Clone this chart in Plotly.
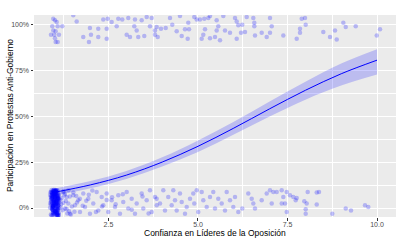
import plotly.graph_objects as go

# ---- Data ----
# Jittered observations, upper band (participated)
top_x = [0.958, 1.006, 1.053, 0.930, 1.081, 1.209, 0.958, 1.025, 0.894, 0.986, 1.117, 1.006, 1.025, 1.081,
         1.517, 1.612, 1.983, 1.796, 2.011, 1.955, 2.215, 2.215, 2.355, 2.478, 2.450, 2.450, 2.589, 2.729,
         2.774, 2.885, 3.053, 3.240, 3.221, 3.288, 3.008, 3.101, 3.332, 3.427, 3.500, 3.567, 3.707, 3.659,
         3.799, 3.799, 3.846, 3.874, 3.966, 4.098, 4.218, 4.282, 4.405, 4.497, 4.545, 4.637, 4.729, 4.749,
         4.712, 4.897, 4.964, 5.056, 5.176, 5.288, 5.335, 5.522, 5.567, 5.522, 5.196, 5.148, 5.103, 5.335,
         5.475, 5.615, 5.707, 5.754, 5.894, 6.034, 6.081, 6.126, 6.237, 6.201, 6.081, 6.313, 6.360, 6.545,
         6.573, 6.573, 6.592, 6.779, 7.011, 7.059, 7.011, 6.919, 7.897, 7.989, 8.008, 7.849, 7.849, 7.383,
         7.757, 8.500, 8.687, 8.827, 8.874, 9.059, 9.126, 9.405, 9.992, 10.084]
top_y = [1.031, 1.022, 1.013, 0.990, 0.990, 0.990, 0.967, 0.962, 0.943, 0.943, 0.943, 0.925, 0.904, 0.904,
         1.049, 1.016, 0.980, 0.931, 0.943, 0.904, 0.931, 0.976, 1.027, 1.031, 0.976, 0.921, 1.013, 0.990,
         1.031, 1.027, 1.034, 1.027, 0.990, 0.967, 0.943, 0.931, 0.931, 1.022, 0.936, 1.040, 1.034, 0.990,
         0.967, 0.943, 0.985, 0.931, 0.976, 0.980, 1.034, 0.998, 0.962, 1.045, 0.936, 0.973, 1.009, 0.973,
         0.921, 1.040, 1.027, 1.027, 1.031, 1.034, 1.045, 1.022, 0.990, 0.967, 0.973, 0.943, 0.921, 0.925,
         0.931, 0.913, 1.045, 0.967, 0.954, 1.034, 1.016, 0.995, 0.998, 0.954, 0.921, 0.958, 1.040, 1.034,
         0.990, 1.009, 0.940, 0.954, 1.034, 0.990, 0.954, 0.931, 1.031, 1.034, 0.998, 0.976, 0.954, 0.940,
         0.921, 0.958, 0.931, 0.967, 0.918, 1.009, 0.985, 0.990, 0.940, 0.973]

# Jittered observations, lower band (did not participate): dense block at x = 1
low1_x = [0.91, 1.05, 0.97, 1.10, 0.89, 1.02, 0.95, 1.08, 0.93, 1.00, 1.12, 0.88, 1.04, 0.96, 1.09, 0.92, 1.01,
          1.07, 0.94, 0.99, 1.11, 0.90, 1.03, 0.98, 1.06, 0.87, 1.10, 0.95, 1.02, 0.91, 1.08, 0.97, 1.04, 0.89,
          1.00, 1.06, 0.93, 1.12, 0.96, 1.01, 0.90, 1.09, 0.94, 1.03, 0.98, 1.07, 0.92, 1.05, 0.88, 1.11, 0.99,
          0.95, 1.02, 1.08, 0.91, 1.04, 0.97, 1.10, 0.93, 1.00,
          0.96, 1.03, 0.90, 1.07, 0.99, 0.93, 1.11, 1.01, 0.88, 1.05, 0.94, 1.09, 0.97, 1.02, 0.91, 1.06, 0.98,
          1.10, 0.92, 1.04, 1.00, 0.89, 1.08, 0.95, 1.03, 0.97, 1.12, 0.90, 1.06, 0.94, 1.01, 0.87, 1.09, 0.96,
          1.04, 0.92, 1.07, 0.99, 1.11, 0.93,
          0.94, 1.00, 1.06, 0.97, 1.03, 1.09, 0.95, 1.01, 1.07, 0.98, 1.04, 0.93, 1.10, 0.96, 1.02, 1.08, 0.99,
          1.05, 0.94, 1.00, 1.06, 0.97, 1.03, 1.09, 0.95, 1.01, 1.07, 0.98, 1.04, 0.93, 1.10, 0.96, 1.02, 1.08,
          0.99, 1.05, 0.94, 1.00, 1.06, 0.97, 1.03, 1.09, 0.95, 1.01, 1.07, 0.98, 1.04, 0.93, 1.10, 0.96, 1.02,
          1.08, 0.99, 1.05, 0.94, 1.00, 1.06, 0.97, 1.03, 1.09, 0.95, 1.01, 1.07, 0.98, 1.04, 0.93, 1.10, 0.96,
          1.02, 1.08, 0.99, 1.05, 0.94, 1.00, 1.06, 0.97, 1.03, 1.09, 0.95, 1.01]
low1_y = [0.085, -0.021, 0.042, 0.067, -0.035, 0.012, 0.095, 0.031, -0.008, 0.058, 0.074, 0.019, -0.028,
          0.088, 0.004, 0.049, -0.015, 0.081, 0.026, 0.063, -0.038, 0.037, 0.092, -0.002, 0.055, 0.071, 0.015,
          -0.025, 0.046, 0.098, -0.011, 0.034, 0.077, 0.060, -0.031, 0.022, 0.083, 0.040, 0.009, -0.018, 0.066,
          0.052, 0.001, 0.090, 0.028, -0.006, 0.072, 0.044, 0.086, -0.027, 0.017, 0.061, 0.094, 0.010, -0.039,
          0.035, 0.079, 0.024, 0.056, 0.003,
          0.007, 0.050, 0.089, -0.033, 0.070, 0.014, 0.047, -0.024, 0.029, 0.097, 0.064, -0.010, 0.039, 0.082,
          0.020, -0.037, 0.093, 0.057, -0.004, 0.027, 0.068, 0.045, 0.090, 0.011, -0.019, 0.076, 0.030, 0.053,
          -0.029, 0.084, 0.041, 0.002, 0.065, -0.013, 0.087, 0.032, 0.059, 0.018, -0.001, 0.073,
          -0.040, 0.021, 0.066, 0.093, -0.017, 0.048, 0.010, 0.075, -0.032, 0.036, 0.087, -0.009, 0.054, 0.017,
          0.098, -0.044, 0.029, 0.069, 0.005, 0.081, -0.026, 0.043, 0.091, 0.013, -0.036, 0.060, 0.025, 0.096,
          -0.003, 0.051, -0.042, 0.078, 0.033, -0.014, 0.085, 0.008, 0.063, -0.023, 0.040, 0.099, 0.018, -0.041,
          0.071, 0.045, -0.007, 0.089, 0.027, 0.057, -0.030, 0.011, 0.094, 0.036, -0.019, 0.067, 0.002, 0.082,
          -0.045, 0.049, 0.023, 0.073, -0.011, 0.058, 0.097, -0.034, 0.031, 0.080, 0.014, -0.027, 0.062, 0.046,
          0.092, -0.006, 0.038, 0.076, -0.039, 0.020, 0.086, 0.052, -0.016, 0.070]

# Lower band, spread over the rest of the x range
low2_x = [1.237, 1.332, 1.377, 1.285, 1.425, 1.517, 1.564, 1.656, 1.704, 1.796, 1.844, 1.936, 1.983, 2.075,
          2.170, 2.215, 2.310, 2.355, 2.450, 2.494, 2.589, 2.682, 2.774, 2.821, 2.913, 3.008, 3.053, 3.148,
          3.240, 3.288, 3.427, 3.472, 3.567, 3.659, 3.707, 3.799, 3.846,
          1.15, 1.22, 1.28, 1.18, 1.35, 1.42, 1.25, 1.48, 1.31, 1.55, 1.20, 1.38, 1.62, 1.45, 1.27, 1.70, 1.52,
          1.33, 1.78, 1.16, 1.60, 1.88, 1.40, 1.95, 1.24, 2.05, 2.32, 2.60, 2.15, 2.45, 2.90, 3.15, 2.70, 3.45,
          3.62,
          3.846, 3.939, 4.031, 4.078, 4.170, 4.310, 4.265, 4.358, 4.405, 4.497, 4.545, 4.637, 4.684, 4.777,
          4.869, 4.897, 4.964, 5.008, 5.103, 5.148, 5.243, 5.335, 5.427, 5.475, 5.567, 5.662, 5.802, 5.754,
          5.894, 5.986, 6.034, 6.126, 6.237, 6.405, 6.500, 6.545, 6.592, 6.779, 6.919, 7.011, 7.103, 7.059,
          7.198, 7.338, 7.478, 7.570, 7.383, 7.662, 7.757, 7.729, 7.338, 7.430, 7.478, 8.064, 7.969, 8.036,
          8.008, 8.008, 8.316, 8.380, 8.316, 8.751, 9.126, 9.274, 9.665, 9.757]
low2_y = [0.087, 0.060, 0.024, -0.003, -0.031, 0.069, 0.015, 0.042, -0.022, 0.079, 0.005, 0.051, -0.031,
          0.024, 0.087, -0.013, 0.060, 0.015, 0.079, -0.022, 0.042, 0.005, 0.069, -0.031, 0.033, 0.087, -0.003,
          0.051, -0.031, 0.024, 0.079, -0.003, 0.042, 0.097, -0.022, 0.060, 0.015,
          0.045, -0.012, 0.078, 0.020, -0.030, 0.063, 0.092, 0.008, 0.038, -0.020, 0.055, 0.097, 0.030, -0.036,
          0.070, 0.050, 0.085, -0.005, 0.012, 0.003, 0.066, 0.040, -0.018, 0.072, 0.028, 0.095, 0.008, 0.058,
          -0.022, 0.044, 0.075, -0.010, 0.020, 0.062, -0.030,
          0.051, 0.024, 0.097, -0.013, 0.060, 0.097, 0.015, 0.042, -0.013, 0.079, 0.033, -0.031, 0.005, 0.051,
          0.079, 0.024, 0.097, -0.022, 0.087, 0.042, 0.005, 0.060, 0.087, -0.003, 0.051, 0.024, 0.087, -0.013,
          0.042, 0.005, 0.060, -0.022, -0.003, 0.079, 0.051, 0.024, -0.003, 0.042, 0.079, 0.097, 0.087, 0.024,
          0.087, 0.097, 0.087, 0.069, 0.060, 0.060, 0.055, 0.042, 0.024, 0.024, -0.022, 0.087, 0.037, 0.024,
          -0.007, -0.031, 0.084, 0.087, 0.019, -0.031, -0.003, -0.013, 0.015, 0.005]

# Fitted logistic curve and its confidence band (read at integer x)
fit_x = [1, 2, 3, 4, 5, 6, 7, 8, 9, 10]
fit_y = [0.086, 0.126, 0.179, 0.250, 0.336, 0.435, 0.540, 0.641, 0.731, 0.805]
fit_lo = [0.068, 0.107, 0.158, 0.226, 0.305, 0.400, 0.498, 0.590, 0.667, 0.727]
fit_hi = [0.106, 0.147, 0.202, 0.276, 0.368, 0.470, 0.580, 0.687, 0.787, 0.865]

x_ticks = [2.5, 5.0, 7.5, 10.0]
x_tick_labels = ["2.5", "5.0", "7.5", "10.0"]
y_ticks = [0, 0.25, 0.5, 0.75, 1.0]
y_tick_labels = ["0%", "25%", "50%", "75%", "100%"]
x_title = "Confianza en Líderes de la Oposición"
y_title = "Participación en Protestas Anti-Gobierno"

# ---- Figure ----
pts_x = top_x + low1_x + low2_x
pts_y = top_y + low1_y + low2_y

fig = go.Figure()
fig.add_trace(go.Scatter(
    x=pts_x, y=pts_y, mode="markers",
    marker=dict(size=4.5, color="rgba(0,0,255,0.24)", line=dict(width=0)),
    hoverinfo="skip", showlegend=False))
fig.add_trace(go.Scatter(
    x=fit_x, y=fit_lo, mode="lines",
    line=dict(width=0, shape="spline", color="rgba(0,0,0,0)"),
    hoverinfo="skip", showlegend=False))
fig.add_trace(go.Scatter(
    x=fit_x, y=fit_hi, mode="lines", fill="tonexty",
    line=dict(width=0, shape="spline", color="rgba(0,0,0,0)"),
    fillcolor="rgba(0,0,255,0.2)", hoverinfo="skip", showlegend=False))
fig.add_trace(go.Scatter(
    x=fit_x, y=fit_y, mode="lines",
    line=dict(color="#0000FF", width=1, shape="spline"),
    hoverinfo="skip", showlegend=False))

axis_common = dict(
    showgrid=True, gridcolor="white", gridwidth=1.1, zeroline=False,
    ticks="outside", ticklen=2.5, tickwidth=0.8, tickcolor="#333333",
    tickfont=dict(family="Liberation Sans, Arial, sans-serif", size=7, color="#4D4D4D"),
    showline=False, automargin=False,
)

fig.update_layout(
    width=400, height=240,
    margin=dict(l=34, r=4, t=15, b=23),
    paper_bgcolor="white", plot_bgcolor="#EBEBEB",
    font=dict(family="Liberation Sans, Arial, sans-serif", color="black"),
    xaxis=dict(
        range=[0.42, 10.53], tickvals=x_ticks, ticktext=x_tick_labels,
        ticklabelstandoff=-2,
        minor=dict(tickvals=[1.25, 3.75, 6.25, 8.75], showgrid=True, gridcolor="white",
                   gridwidth=0.5, ticks=""),
        **axis_common),
    yaxis=dict(
        range=[-0.049, 1.051], tickvals=y_ticks, ticktext=y_tick_labels,
        minor=dict(tickvals=[0.125, 0.375, 0.625, 0.875], showgrid=True, gridcolor="white",
                   gridwidth=0.5, ticks=""),
        **axis_common),
    annotations=[
        dict(text=x_title, xref="paper", yref="paper", x=0.5, y=-0.08,
             xanchor="center", yanchor="middle", showarrow=False,
             font=dict(size=8.5, color="black")),
        dict(text=y_title, xref="paper", yref="paper", x=-0.066, y=0.5,
             xanchor="center", yanchor="middle", textangle=-90, showarrow=False,
             font=dict(size=8.5, color="black")),
    ],
)

fig.write_html("out.html")
